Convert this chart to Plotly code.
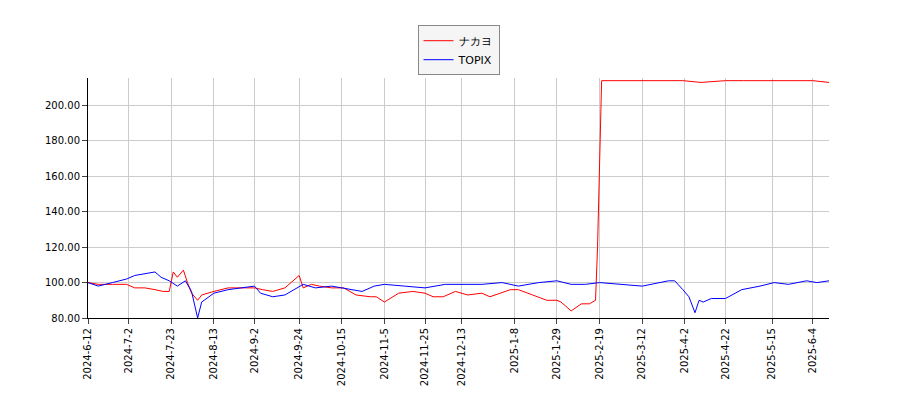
import plotly.graph_objects as go

nak_dates = ["2024-06-12","2024-06-17","2024-06-24","2024-07-01","2024-07-05","2024-07-10","2024-07-15","2024-07-19","2024-07-22","2024-07-24","2024-07-26","2024-07-29","2024-07-31","2024-08-02","2024-08-05","2024-08-07","2024-08-13","2024-08-20","2024-08-27","2024-09-02","2024-09-06","2024-09-11","2024-09-17","2024-09-20","2024-09-24","2024-09-26","2024-09-30","2024-10-04","2024-10-10","2024-10-16","2024-10-22","2024-10-29","2024-11-01","2024-11-05","2024-11-12","2024-11-19","2024-11-25","2024-11-29","2024-12-04","2024-12-10","2024-12-16","2024-12-23","2024-12-27","2025-01-06","2025-01-10","2025-01-17","2025-01-24","2025-01-29","2025-01-31","2025-02-05","2025-02-10","2025-02-14","2025-02-17","2025-02-18","2025-02-19","2025-02-20","2025-03-03","2025-03-14","2025-03-25","2025-04-01","2025-04-10","2025-04-22","2025-05-01","2025-05-15","2025-05-26","2025-06-04","2025-06-12"]
nak_vals = [100,99,99,99,97,97,96,95,95,106,103,107,100,94,90,93,95,97,97,97,96,95,97,100,104,97,99,98,97,97,93,92,92,89,94,95,94,92,92,95,93,94,92,96,96,93,90,90,89,84,88,88,90,120,160,214,214,214,214,214,213,214,214,214,214,214,213]

tpx_dates = ["2024-06-12","2024-06-17","2024-06-24","2024-07-01","2024-07-05","2024-07-10","2024-07-15","2024-07-18","2024-07-22","2024-07-26","2024-07-30","2024-08-02","2024-08-05","2024-08-07","2024-08-13","2024-08-20","2024-08-27","2024-09-02","2024-09-05","2024-09-11","2024-09-17","2024-09-20","2024-09-26","2024-10-02","2024-10-10","2024-10-15","2024-10-25","2024-10-31","2024-11-05","2024-11-15","2024-11-25","2024-12-05","2024-12-13","2024-12-23","2025-01-02","2025-01-10","2025-01-20","2025-01-29","2025-02-05","2025-02-12","2025-02-19","2025-03-03","2025-03-12","2025-03-25","2025-03-28","2025-04-01","2025-04-04","2025-04-07","2025-04-09","2025-04-11","2025-04-15","2025-04-22","2025-04-30","2025-05-09","2025-05-16","2025-05-23","2025-06-01","2025-06-06","2025-06-12"]
tpx_vals = [100,98,100,102,104,105,106,103,101,98,101,95,80,89,94,96,97,98,94,92,93,95,99,97,98,97,95,98,99,98,97,99,99,99,100,98,100,101,99,99,100,99,98,101,101,96,92,83,90,89,91,91,96,98,100,99,101,100,101]

tick_dates = ["2024-06-12","2024-07-02","2024-07-23","2024-08-13","2024-09-02","2024-09-24","2024-10-15","2024-11-05","2024-11-25","2024-12-13","2025-01-08","2025-01-29","2025-02-19","2025-03-12","2025-04-02","2025-04-22","2025-05-15","2025-06-04"]
tick_text = ["2024-6-12","2024-7-2","2024-7-23","2024-8-13","2024-9-2","2024-9-24","2024-10-15","2024-11-5","2024-11-25","2024-12-13","2025-1-8","2025-1-29","2025-2-19","2025-3-12","2025-4-2","2025-4-22","2025-5-15","2025-6-4"]

fig = go.Figure()
fig.add_trace(go.Scatter(x=nak_dates, y=nak_vals, mode="lines", name="ナカヨ", line=dict(color="red", width=1)))
fig.add_trace(go.Scatter(x=tpx_dates, y=tpx_vals, mode="lines", name="TOPIX", line=dict(color="blue", width=1)))
fig.update_layout(
    width=900, height=400, paper_bgcolor="white", plot_bgcolor="white",
    margin=dict(l=80, r=79, t=70, b=90, autoexpand=False),
    font=dict(family="DejaVu Sans", size=10, color="black"),
    legend=dict(x=0.5, xanchor="center", y=1.22, yanchor="top", bordercolor="#888", borderwidth=1, bgcolor="#f5f5f5", font=dict(size=11)),
    showlegend=True,
)
fig.update_xaxes(range=["2024-06-12","2025-06-12"], tickvals=tick_dates, ticktext=tick_text, tickangle=-90, automargin=False,
                 showgrid=True, gridcolor="#cccccc", showline=True, linecolor="black", ticks="outside", mirror=False)
fig.update_yaxes(range=[80, 215.5], tickvals=[80,100,120,140,160,180,200], tickformat=".2f", automargin=False,
                 showgrid=True, gridcolor="#cccccc", showline=True, linecolor="black", ticks="outside", zeroline=False)
fig.write_html("out.html")
